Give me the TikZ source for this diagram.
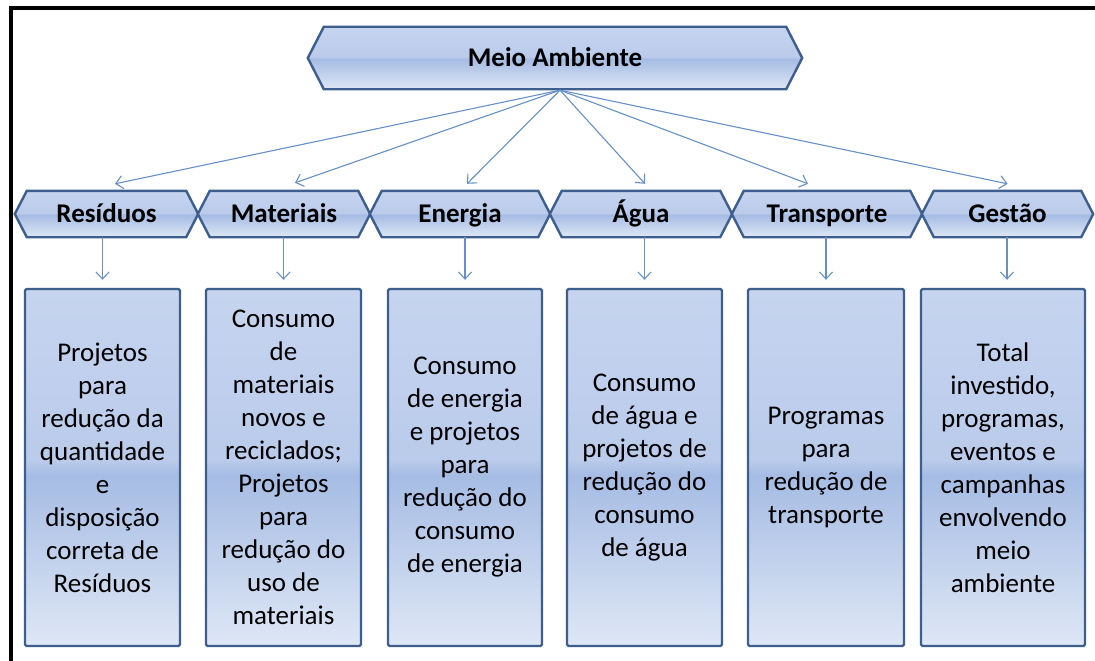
\documentclass[tikz,border=0pt]{standalone}
\usepackage{fontspec}
\setmainfont{Carlito}
\usetikzlibrary{arrows.meta,backgrounds}
\definecolor{bT}{HTML}{C6D4EF}
\definecolor{bT2}{HTML}{BACBEB}
\definecolor{bM}{HTML}{A6BCE4}
\definecolor{bB}{HTML}{DEE7F5}
\definecolor{edgeblue}{HTML}{3E5F8E}
\definecolor{arrc}{HTML}{6690C9}
\pgfdeclareverticalshading{offblue}{100bp}{color(0bp)=(bB); color(25bp)=(bB); color(49bp)=(bM); color(51bp)=(bT2); color(75bp)=(bT); color(100bp)=(bT)}
\tikzset{
  hexlab/.style={inner sep=0pt, minimum height=46pt, text height=17.5pt, text depth=0pt,
    font=\fontsize{27}{33}\selectfont\bfseries},
  boxst/.style={draw=edgeblue, line width=2.4pt, shade, shading=offblue, rounded corners=1.5pt,
    inner sep=0pt, align=center, font=\fontsize{27}{33}\selectfont, minimum height=357pt},
  hexst/.style={draw=edgeblue, line width=2.4pt, shade, shading=offblue, line join=miter},
  arr/.style={draw=arrc, line width=1.1pt, -{Straight Barb[length=7pt,width=13pt]}},
  frame/.style={line width=4pt, draw=black}
}
\newcommand\hexdraw[2]{\path[hexst] (#1.west) -- ([xshift=#2]#1.north west) -- ([xshift=-#2]#1.north east) -- (#1.east) -- ([xshift=-#2]#1.south east) -- ([xshift=#2]#1.south west) -- cycle;}
\begin{document}
\begin{tikzpicture}[x=1pt,y=-1pt]
\useasboundingbox (0,0) rectangle (1095,661);
\draw[frame] (10.5,661) -- (10.5,7.7) -- (1095,7.7);

% hexagon labels
\node[hexlab, minimum width=494pt, minimum height=62pt] (ma) at (555,58) {Meio Ambiente};
\node[hexlab, minimum width=183pt] (res) at (106.5,214) {Resíduos};
\node[hexlab, minimum width=172pt] (mat) at (284,214) {Materiais};
\node[hexlab, minimum width=180pt] (ene) at (460,214) {Energia};
\node[hexlab, minimum width=182pt] (agu) at (641,214) {Água};
\node[hexlab, minimum width=190pt] (tra) at (827,214) {Transporte};
\node[hexlab, minimum width=171pt] (ges) at (1007.5,214) {Gestão};

\begin{pgfonlayer}{background}
\hexdraw{ma}{16pt}
\hexdraw{res}{12pt}
\hexdraw{mat}{12pt}
\hexdraw{ene}{12pt}
\hexdraw{agu}{12pt}
\hexdraw{tra}{12pt}
\hexdraw{ges}{12pt}
\end{pgfonlayer}

% boxes
\node[boxst, minimum width=155pt] (b1) at (102.5,467.5) {Projetos\\para\\redução da\\quantidade\\e\\disposição\\correta de\\Resíduos};
\node[boxst, minimum width=155pt] (b2) at (283.5,467.5) {Consumo\\de\\materiais\\novos e\\reciclados;\\Projetos\\para\\redução do\\uso de\\materiais};
\node[boxst, minimum width=154pt] (b3) at (465,467.5) {Consumo\\de energia\\e projetos\\para\\redução do\\consumo\\de energia};
\node[boxst, minimum width=155pt] (b4) at (644.5,467.5) {Consumo\\de água e\\projetos de\\redução do\\consumo\\de água};
\node[boxst, minimum width=156pt] (b5) at (826,467.5) {Programas\\para\\redução de\\transporte};
\node[boxst, minimum width=164pt] (b6) at (1003,467.5) {Total\\investido,\\programas,\\eventos e\\campanhas\\envolvendo\\meio\\ambiente};

% top arrows
\coordinate (src) at ([xshift=5pt,yshift=-1pt]ma.south);
\draw[arr] (src) -- ([xshift=8.5pt,yshift=7pt]res.north);
\draw[arr] (src) -- ([xshift=11pt,yshift=8pt]mat.north);
\draw[arr] (src) -- ([xshift=7pt,yshift=7pt]ene.north);
\draw[arr] (src) -- ([xshift=4pt,yshift=7pt]agu.north);
\draw[arr] (src) -- ([xshift=-19pt,yshift=7pt]tra.north);
\draw[arr] (src) -- ([xshift=0pt,yshift=7pt]ges.north);

% vertical arrows
\draw[arr, shorten >=8pt] (b1.north |- res.south) -- (b1.north);
\draw[arr, shorten >=8pt] (b2.north |- mat.south) -- (b2.north);
\draw[arr, shorten >=8pt] (b3.north |- ene.south) -- (b3.north);
\draw[arr, shorten >=8pt] (b4.north |- agu.south) -- (b4.north);
\draw[arr, shorten >=8pt] (b5.north |- tra.south) -- (b5.north);
\draw[arr, shorten >=8pt] ([xshift=4pt]b6.north |- ges.south) -- ([xshift=4pt]b6.north);
\end{tikzpicture}
\end{document}
